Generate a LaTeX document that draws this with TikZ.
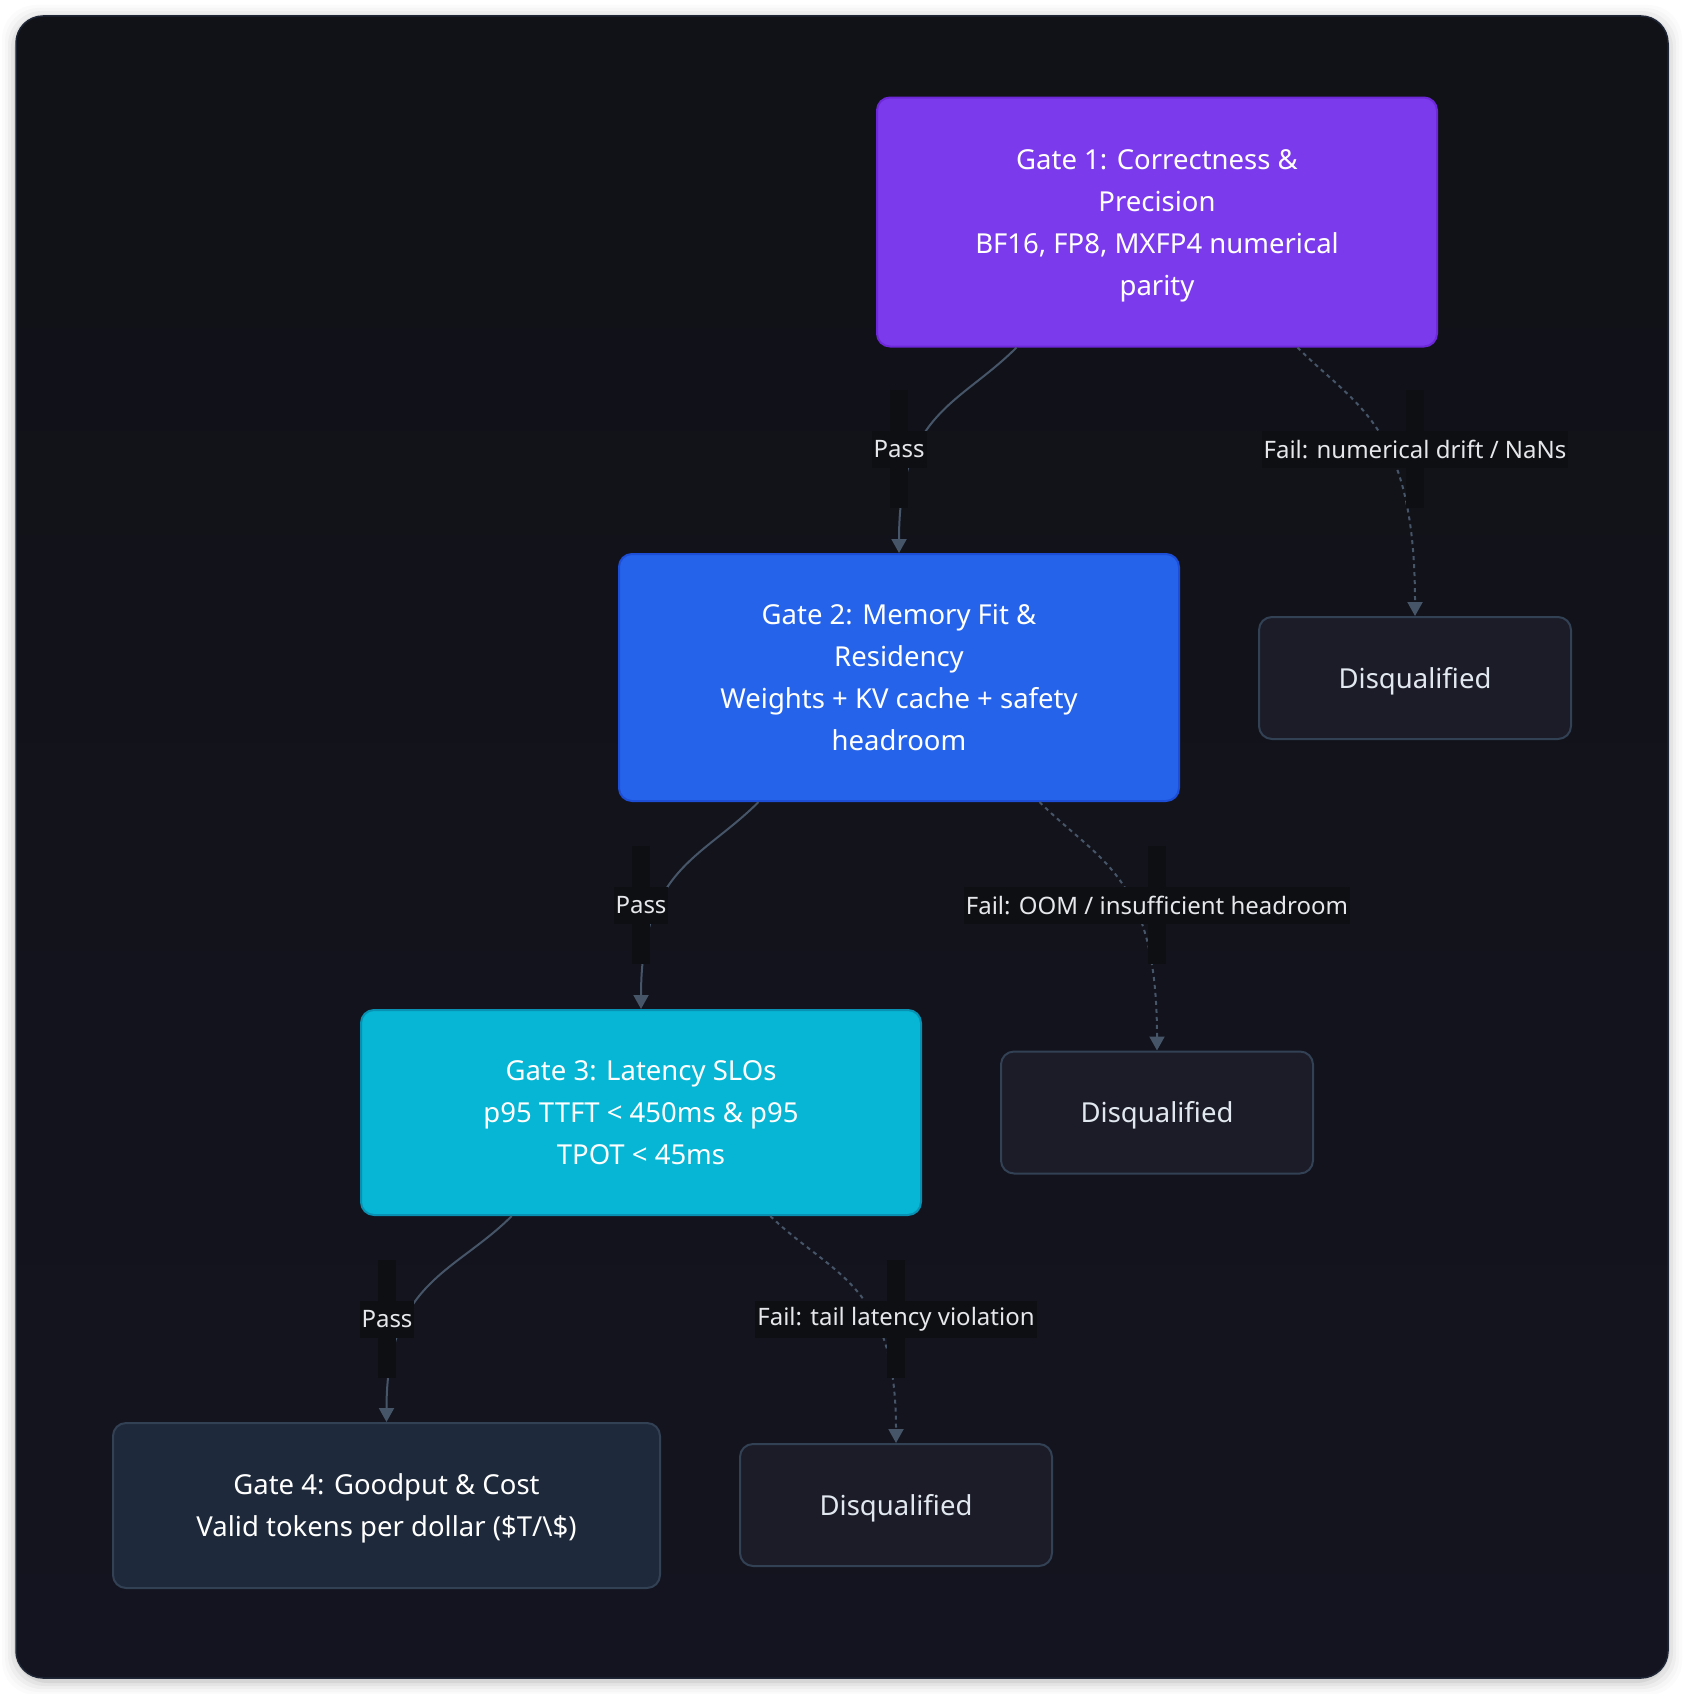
\documentclass[tikz,border=0pt]{standalone}
\usepackage{fontspec}
\setmainfont{Noto Sans}
\usetikzlibrary{arrows.meta,calc}
\pgfdeclarelayer{bgl}
\pgfdeclarelayer{midl}
\pgfdeclarelayer{fgl}
\pgfsetlayers{bgl,main,midl,fgl}
\definecolor{cardtop}{HTML}{111217}
\definecolor{cardbot}{HTML}{13141F}
\definecolor{cardline}{HTML}{1E2535}
\definecolor{violetf}{HTML}{7C3AED}
\definecolor{violetd}{HTML}{6D28D9}
\definecolor{bluef}{HTML}{2563EB}
\definecolor{blued}{HTML}{1D4ED8}
\definecolor{cyanf}{HTML}{06B6D4}
\definecolor{cyand}{HTML}{0891B2}
\definecolor{slatef}{HTML}{1E293B}
\definecolor{slated}{HTML}{334155}
\definecolor{disf}{HTML}{1B1C28}
\definecolor{edgec}{HTML}{475569}
\definecolor{lblbg}{HTML}{0E0F12}
\definecolor{faintbg}{HTML}{101115}
\definecolor{lbltext}{HTML}{E5E7EB}
\definecolor{distext}{HTML}{E2E8F0}
\newcommand{\lnst}{\rule[-11pt]{0pt}{42pt}}
\begin{document}
\begin{tikzpicture}[x=1pt,y=-1pt,
  box/.style={rectangle, rounded corners=13pt, align=center, line width=2pt,
    text=white, font=\fontsize{27.5}{42}\selectfont, inner sep=0pt},
  gateone/.style={box, fill=violetf, draw=violetd, minimum width=560pt, minimum height=249pt},
  gatetwo/.style={box, fill=bluef, draw=blued, minimum width=560pt, minimum height=247pt},
  gatethree/.style={box, fill=cyanf, draw=cyand, minimum width=560pt, minimum height=205pt},
  gatefour/.style={box, fill=slatef, draw=slated, minimum width=547pt, minimum height=165pt},
  disbox/.style={box, fill=disf, draw=slated, text=distext, minimum width=312pt, minimum height=122pt},
  passedge/.style={draw=edgec, line width=2pt, -{Triangle[width=15pt,length=14pt]}},
  failedge/.style={passedge, dash pattern=on 4pt off 4pt},
  lbl/.style={fill=lblbg, text=lbltext, font=\fontsize{24}{29}\selectfont,
    inner xsep=2pt, inner ysep=0pt, minimum height=37pt},
  stripc/.style={fill=lblbg},
  faintc/.style={fill=faintbg}
]
\useasboundingbox (0,0) rectangle (1684,1694);
\fill[white] (0,0) rectangle (1684,1694);
% card shadow
\foreach \s/\o in {14/0.015,11/0.02,8/0.03,5/0.04,2/0.06}{
  \fill[black, opacity=\o, rounded corners=34pt] (16-\s,16-\s+3) rectangle (1668+\s,1678+\s+3);
}
\shade[top color=cardtop, bottom color=cardbot, rounded corners=27pt] (16,16) rectangle (1668,1678);
\draw[cardline, line width=1.5pt, rounded corners=27pt] (16,16) rectangle (1668,1678);

% nodes
\node[gateone] (g1) at (1157,222) {\lnst Gate 1: Correctness \&\\\lnst Precision\\\lnst BF16, FP8, MXFP4 numerical\\\lnst parity};
\node[gatetwo] (g2) at (899,677.5) {\lnst Gate 2: Memory Fit \&\\\lnst Residency\\\lnst Weights + KV cache + safety\\\lnst headroom};
\node[disbox] (d1) at (1415,678) {\lnst Disqualified};
\node[gatethree] (g3) at (641,1112.5) {\lnst Gate 3: Latency SLOs\\\lnst p95 TTFT < 450ms \& p95\\\lnst TPOT < 45ms};
\node[disbox] (d2) at (1157,1112.5) {\lnst Disqualified};
\node[gatefour] (g4) at (386.5,1505.5) {\lnst Gate 4: Goodput \& Cost\\\lnst Valid tokens per dollar (\$T/\textbackslash\$)};
\node[disbox] (d3) at (896,1505) {\lnst Disqualified};

% edge start points
\coordinate (g1p) at ($(g1.south west)!0.25!(g1.south east)$);
\coordinate (g1f) at ($(g1.south west)!0.75!(g1.south east)$);
\coordinate (g2p) at ($(g2.south west)!0.25!(g2.south east)$);
\coordinate (g2f) at ($(g2.south west)!0.75!(g2.south east)$);
\coordinate (g3p) at ($(g3.south west)!0.27!(g3.south east)$);
\coordinate (g3f) at ($(g3.south west)!0.73!(g3.south east)$);

% edges
\draw[passedge] (g1p) .. controls +(-57,57) and +(0,-140) .. (g2.north);
\draw[failedge] (g1f) .. controls +(60,60) and +(0,-190) .. (d1.north);
\draw[passedge] (g2p) .. controls +(-57,57) and +(0,-140) .. (g3.north);
\draw[failedge] (g2f) .. controls +(60,60) and +(0,-175) .. (d2.north);
\draw[passedge] (g3p) .. controls +(-57,57) and +(0,-140) .. (g4.north);
\draw[failedge] (g3f) .. controls +(62,60) and +(0,-160) .. (d3.north);

% labels
\begin{pgfonlayer}{fgl}
\node[lbl] (l1) at (899,449) {Pass};
\node[lbl] (l2) at (1415,449) {Fail: numerical drift / NaNs};
\node[lbl] (l3) at (641,905) {Pass};
\node[lbl] (l4) at (1157,905) {Fail: OOM / insufficient headroom};
\node[lbl] (l5) at (387,1319) {Pass};
\node[lbl] (l6) at (896,1319) {Fail: tail latency violation};
\end{pgfonlayer}
\begin{pgfonlayer}{midl}
\foreach \l in {l1,l2,l3,l4,l5,l6}{
  \fill[stripc] ($(\l.center)+(-9,-59)$) rectangle ($(\l.center)+(9,59)$);
}
\end{pgfonlayer}
\begin{pgfonlayer}{bgl}
\foreach \l in {l1,l2,l3,l4,l5,l6}{
  \fill[faintc] ($(\l.west)+(0,-59)$) rectangle ($(\l.east)+(0,59)$);
}
\end{pgfonlayer}
\end{tikzpicture}
\end{document}
